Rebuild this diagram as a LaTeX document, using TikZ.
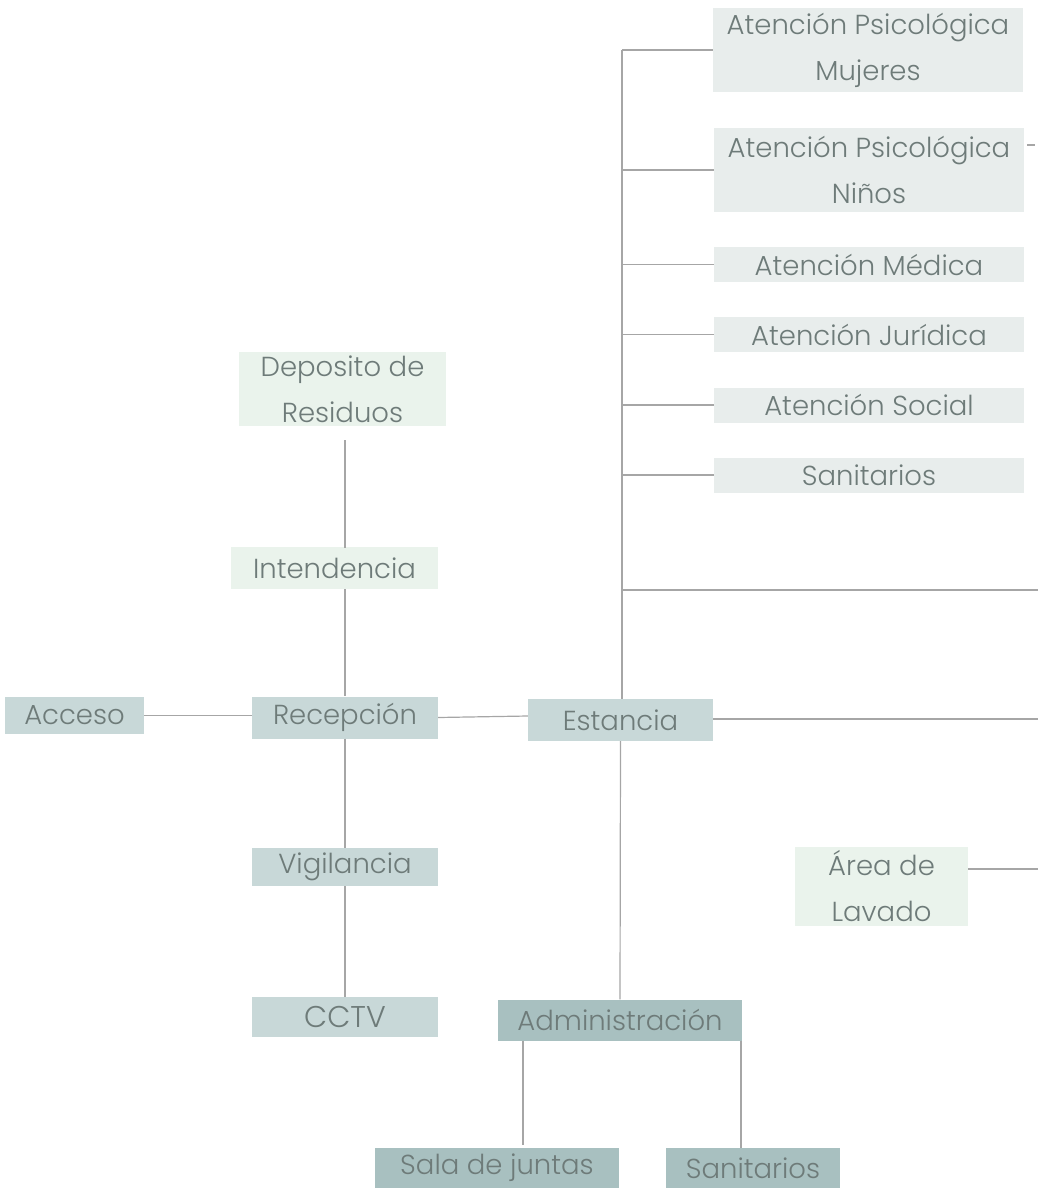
\documentclass[tikz,border=0pt]{standalone}
\usepackage{fontspec}
\setmainfont{Poppins}[UprightFont={* Light}]
\definecolor{txt}{HTML}{6E7B79}
\definecolor{ln}{HTML}{A6A6A6}
\definecolor{cgray}{HTML}{E8EDEC}
\definecolor{cgreen}{HTML}{EAF3EC}
\definecolor{cmid}{HTML}{C8D8D8}
\definecolor{cdark}{HTML}{A8C0C0}
\tikzset{
  bx/.style={rectangle, inner sep=0pt, text=txt, align=center,
    font=\fontsize{27.5}{46}\selectfont},
  grayb/.style={bx, fill=cgray},
  greenb/.style={bx, fill=cgreen},
  midb/.style={bx, fill=cmid},
  darkb/.style={bx, fill=cdark},
  conn/.style={draw=ln, line width=1.2pt}
}
\begin{document}
\begin{tikzpicture}[x=1pt,y=-1pt]
\useasboundingbox (0,0) rectangle (1045,1188);
% right column
\node[grayb, minimum width=310, minimum height=84] (apm) at (868,50) {Atención Psicológica\\Mujeres};
\node[grayb, minimum width=310, minimum height=84] (apn) at (869,170) {Atención Psicológica\\Niños};
\node[grayb, minimum width=310, minimum height=35] (am) at (869,264.5) {Atención Médica};
\node[grayb, minimum width=310, minimum height=35] (aj) at (869,334.5) {Atención Jurídica};
\node[grayb, minimum width=310, minimum height=35] (as) at (869,405) {Atención Social};
\node[grayb, minimum width=310, minimum height=35] (san1) at (869,475) {Sanitarios};
% central
\node[midb, minimum width=185, minimum height=42] (est) at (620.5,720) {Estancia};
\node[midb, minimum width=186, minimum height=42] (rec) at (345,717.5) {Recepción};
\node[midb, minimum width=139, minimum height=37] (acc) at (74.5,715.5) {Acceso};
\node[greenb, minimum width=207, minimum height=74] (dep) at (342.5,389) {Deposito de\\Residuos};
\node[greenb, minimum width=207, minimum height=42] (int) at (334.5,568) {Intendencia};
\node[midb, minimum width=186, minimum height=38] (vig) at (345,867) {Vigilancia};
\node[midb, minimum width=186, minimum height=40, font=\fontsize{30}{34}\selectfont] (cctv) at (345,1017) {CCTV};
\node[darkb, minimum width=244, minimum height=41] (adm) at (620,1020) {Administración};
\node[darkb, minimum width=244, minimum height=40] (sala) at (497,1168) {Sala de juntas};
\node[darkb, minimum width=174, minimum height=40] (san2) at (753,1168) {Sanitarios};
\node[greenb, minimum width=173, minimum height=79] (lav) at (881.5,886.5) {Área de\\Lavado};
% coordinates
\coordinate (top) at (622,50);
\coordinate (e590) at (1038,590);
\coordinate (e719) at (1038,719);
\coordinate (e869) at (1038,869);
\coordinate (stubA) at (1027,145);
\coordinate (stubB) at (1035,145);
% connectors
\draw[conn] (top) -- (622,699);
\draw[conn] (top) -- (apm.west);
\draw[conn] (622,170) -- (apn.west);
\draw[conn] (622,264.5) -- (am.west);
\draw[conn] (622,334.5) -- (aj.west);
\draw[conn] (622,405) -- (as.west);
\draw[conn] (622,475) -- (san1.west);
\draw[conn] (622,590) -- (e590);
\draw[conn] (est.east |- e719) -- (e719);
\draw[conn] (stubA) -- (stubB);
\draw[conn] (acc.east) -- (rec.west |- acc.east);
\draw[conn] (rec.east) -- (est.west |- 0,716);
\draw[conn] (345,440) -- (345,548);
\draw[conn] (345,589) -- (rec.north);
\draw[conn] (rec.south) -- (vig.north);
\draw[conn] (vig.south) -- (cctv.north);
\draw[conn] (est.south) -- (adm.north);
\draw[conn] (523,1040.5) -- (523,1145);
\draw[conn] (741,1040.5) -- (741,1148);
\draw[conn] (lav.east |- e869) -- (e869);
\end{tikzpicture}
\end{document}
